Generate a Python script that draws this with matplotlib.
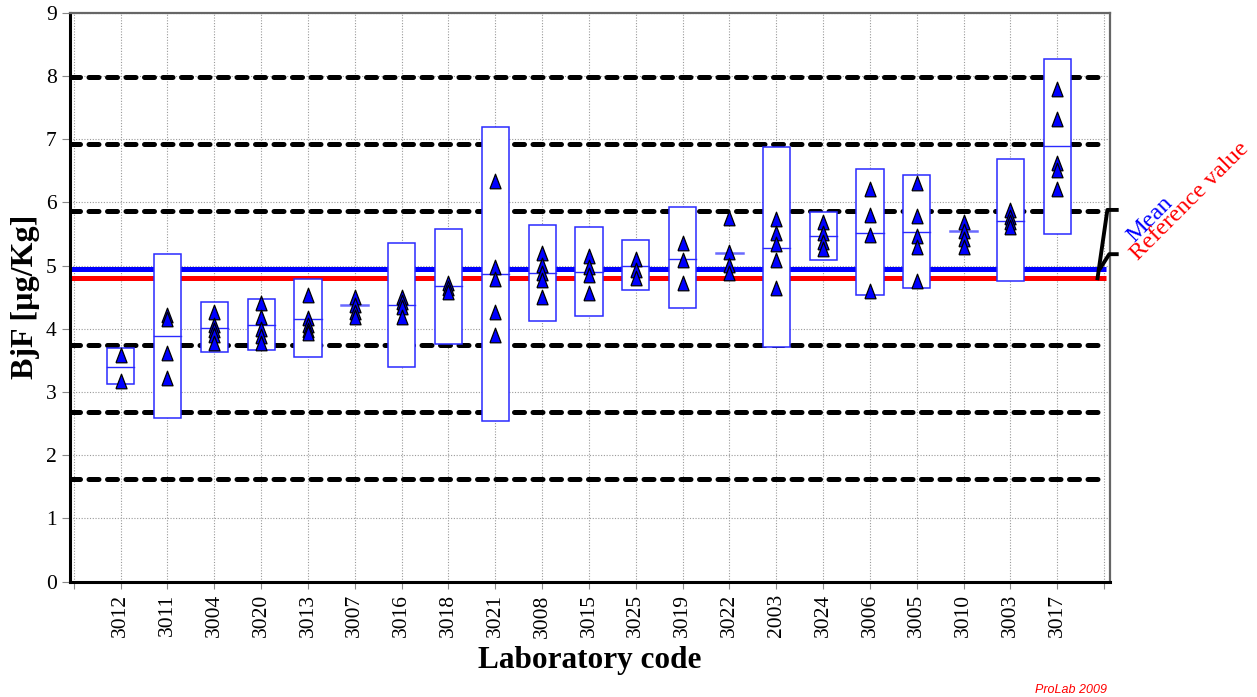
import numpy as np
import matplotlib
matplotlib.use('Agg')
import matplotlib.pyplot as plt
from matplotlib.patches import Rectangle

# lab codes in plotted order
labs = ['3012', '3011', '3004', '3020', '3013', '3007', '3016', '3018', '3021', '3008',
        '3015', '3025', '3019', '3022', '2003', '3024', '3006', '3005', '3010', '3003', '3017']

# individual results per lab
results = [
    [3.58, 3.18],
    [4.22, 4.15, 3.62, 3.22],
    [4.27, 4.06, 3.98, 3.90, 3.77],
    [4.40, 4.19, 3.99, 3.88, 3.77],
    [4.53, 4.17, 4.06, 3.98, 3.93],
    [4.51, 4.38, 4.27, 4.18],
    [4.50, 4.42, 4.35, 4.19],
    [4.72, 4.64, 4.58],
    [6.34, 4.98, 4.79, 4.27, 3.90],
    [5.20, 5.01, 4.88, 4.77, 4.50],
    [5.15, 4.98, 4.85, 4.56],
    [5.10, 4.93, 4.80],
    [5.35, 5.09, 4.73],
    [5.75, 5.22, 5.01, 4.88],
    [5.73, 5.52, 5.34, 5.09, 4.65],
    [5.69, 5.52, 5.38, 5.26],
    [6.21, 5.80, 5.49, 4.60],
    [6.31, 5.78, 5.46, 5.29, 4.76],
    [5.69, 5.54, 5.42, 5.29],
    [5.88, 5.77, 5.69, 5.61],
    [7.80, 7.32, 6.62, 6.51, 6.21],
]

# lab means and box limits (nan = no box drawn)
lab_mean = [3.39, 3.89, 4.02, 4.06, 4.16, 4.37, 4.37, 4.67, 4.86, 4.88,
            4.90, 5.00, 5.11, 5.20, 5.27, 5.46, 5.52, 5.53, 5.54, 5.70, 6.89]
box_low = [3.12, 2.59, 3.63, 3.67, 3.56, np.nan, 3.40, 3.76, 2.54, 4.13,
           4.20, 4.62, 4.33, np.nan, 3.71, 5.09, 4.53, 4.64, np.nan, 4.75, 5.50]
box_high = [3.70, 5.18, 4.42, 4.47, 4.78, np.nan, 5.36, 5.58, 7.19, 5.64,
            5.61, 5.40, 5.93, np.nan, 6.87, 5.84, 6.52, 6.43, np.nan, 6.69, 8.27]

ref_value = 4.80
mean_value = 4.94
sigma = 1.06
limit_k = [-3, -2, -1, 1, 2, 3]

plt.rcParams['font.family'] = ['Liberation Serif', 'DejaVu Serif']

fig = plt.figure(figsize=(12.57, 6.97), dpi=100)
ax = fig.add_axes([0.0557, 0.1655, 0.8275, 0.8163])

x = np.arange(1, len(labs) + 1)
xmax = len(labs) + 1
ax.set_xlim(-0.08, 22.13)
ax.set_ylim(0, 9)

ax.set_xticks(np.arange(0, xmax + 1))
ax.set_xticklabels([''] + labs + [''], rotation=90, fontsize=15.5)
ax.set_yticks(np.arange(0, 10))
ax.tick_params(axis='y', labelsize=15.5, length=6, color='#888888', direction='out')
ax.tick_params(axis='x', length=5, color='#888888', direction='out', pad=4)
ax.grid(True, color='#9a9a9a', linestyle=(0, (1, 1.5)), linewidth=0.8, zorder=0)
ax.set_axisbelow(True)

for s in ['left', 'bottom']:
    ax.spines[s].set_linewidth(2.2)
    ax.spines[s].set_color('black')
for s in ['top', 'right']:
    ax.spines[s].set_linewidth(1.6)
    ax.spines[s].set_color('#666666')

# limit lines (ref +/- k*sigma)
for k in limit_k:
    y = ref_value + k * sigma
    ax.plot([-0.08, 21.95], [y, y], color='black', lw=3.6,
            dashes=(2.0, 1.7), dash_capstyle='round', zorder=2)

ax.plot([-0.08, 22.05], [mean_value, mean_value], color='blue', lw=3.6,
        solid_capstyle='butt', zorder=2)
ax.plot([-0.08, 22.05], [ref_value, ref_value], color='red', lw=3.6,
        solid_capstyle='butt', zorder=2)

# boxes and mean lines
bw = 0.58
for xi, lo, hi, m in zip(x, box_low, box_high, lab_mean):
    if not np.isnan(lo):
        ax.add_patch(Rectangle((xi - bw / 2, lo), bw, hi - lo, facecolor='white',
                               edgecolor='#2a2aff', lw=1.1, zorder=3))
        ax.plot([xi - bw / 2, xi + bw / 2], [m, m], color='#2a2aff', lw=1.0, zorder=4)
    else:
        ax.plot([xi - bw / 2, xi + bw / 2], [m, m], color='#6a6aff', lw=1.8, zorder=4)

tri = [(-0.38, -0.5), (0.38, -0.5), (0.0, 0.5), (-0.38, -0.5)]
for xi, vals in zip(x, results):
    ax.plot([xi] * len(vals), vals, linestyle='none', marker=tri, markersize=10.5,
            markerfacecolor='blue', markeredgecolor='black', markeredgewidth=0.9, zorder=5)

ax.set_xlabel('Laboratory code', fontsize=22.5, fontweight='bold', labelpad=6)
ax.set_ylabel('BjF [µg/Kg]', fontsize=23, fontweight='bold', labelpad=4)

# leader lines to the labels on the right
top = ref_value + sigma
ax.plot([21.86, 22.07, 22.27], [ref_value, top + 0.02, top + 0.02], color='black',
        lw=2.8, clip_on=False, zorder=6)
ax.plot([21.92, 22.11, 22.27], [mean_value + 0.02, 5.18, 5.18], color='black',
        lw=2.8, clip_on=False, zorder=6)

fig.text(1134 / 1257, 1 - 243 / 697, 'Mean', color='blue', fontsize=17.5, rotation=45,
         rotation_mode='anchor', ha='left', va='baseline')
fig.text(1138 / 1257, 1 - 261 / 697, 'Reference value', color='red', fontsize=17.5,
         rotation=45, rotation_mode='anchor', ha='left', va='baseline')

fig.text(1107 / 1257, 1 - 693 / 697, 'ProLab 2009', color='red', fontsize=9,
         style='italic', family='Liberation Sans', ha='right', va='baseline')

fig.savefig('out.png', dpi=100)
